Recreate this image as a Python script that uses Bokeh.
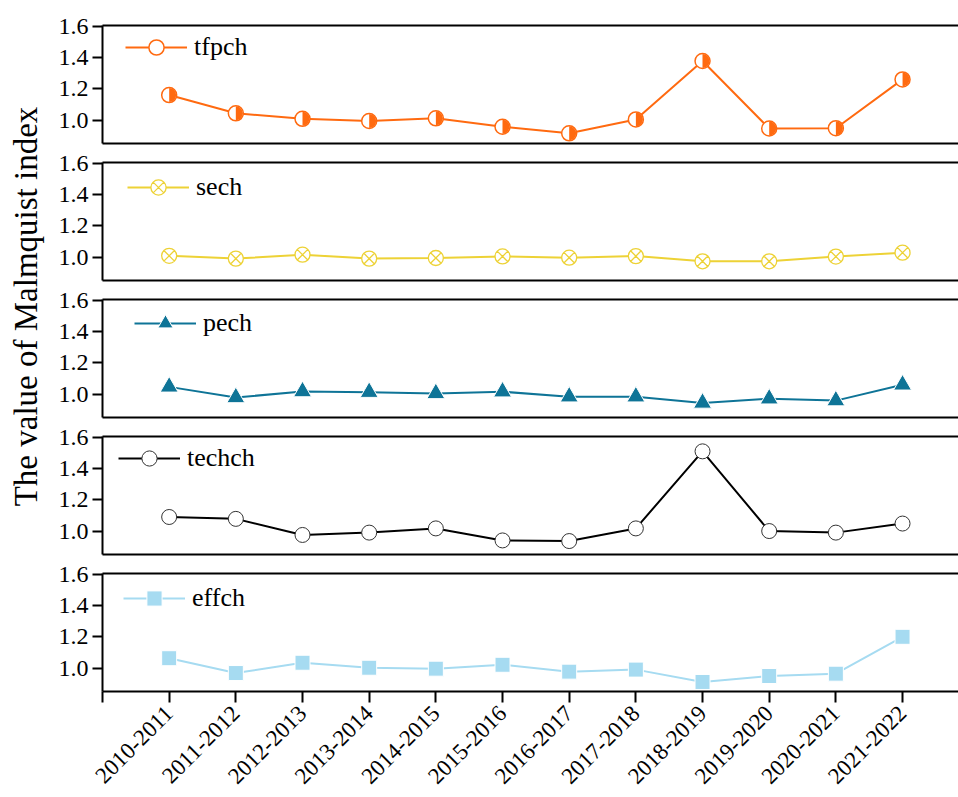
import numpy as np
from math import pi
from bokeh.plotting import figure
from bokeh.layouts import row, column
from bokeh.models import Range1d, FixedTicker, LinearAxis, PrintfTickFormatter
from bokeh.core.properties import value
from bokeh.embed import file_html
from bokeh.resources import INLINE

# ---------------- data ----------------
periods = ["2010-2011", "2011-2012", "2012-2013", "2013-2014", "2014-2015", "2015-2016",
           "2016-2017", "2017-2018", "2018-2019", "2019-2020", "2020-2021", "2021-2022"]
tfpch = [1.160, 1.043, 1.008, 0.994, 1.011, 0.957, 0.915, 1.004, 1.378, 0.946, 0.948, 1.260]
sech = [1.008, 0.990, 1.015, 0.990, 0.994, 1.004, 0.996, 1.006, 0.973, 0.973, 1.003, 1.028]
pech = [1.046, 0.978, 1.016, 1.012, 1.004, 1.015, 0.983, 0.983, 0.943, 0.970, 0.958, 1.059]
techch = [1.090, 1.078, 0.975, 0.990, 1.017, 0.940, 0.936, 1.017, 1.510, 1.000, 0.990, 1.048]
effch = [1.063, 0.968, 1.034, 1.002, 0.996, 1.021, 0.977, 0.990, 0.911, 0.949, 0.964, 1.200]
y_ticks = [1.0, 1.2, 1.4, 1.6]
y_label = "The value of Malmquist index"

# ---------------- styles ----------------
FONT = "Liberation Serif"
styles = {
    "tfpch": dict(color="#FF6A10", marker="circle", fill="white", size=15, mlw=1.5, half=True,
                  leg=(23, 77)),
    "sech": dict(color="#EDD236", marker="circle_x", fill="white", size=15, mlw=1.3, half=False,
                 leg=(25, 74)),
    "pech": dict(color="#0E7497", marker="triangle", fill="#0E7497", size=18, mlw=1.0, half=False,
                 mline="white", leg=(32, 75)),
    "techch": dict(color="#000000", marker="circle", fill="white", size=15, mlw=1.0, half=False,
                   mline="#333333", leg=(16, 77)),
    "effch": dict(color="#A6DBF1", marker="square", fill="#A6DBF1", size=15, mlw=1.0, half=False,
                  mline="white", leg=(21, 74)),
}

x = np.arange(1, len(periods) + 1)
LABEL_W = 53
LEFT = 49
FRAME_W = 958 - LABEL_W - LEFT
FRAME_H = 118
PANEL_W = LEFT + FRAME_W
X_END = FRAME_W / 66.67


def make_panel(name, vals, first=False, last=False):
    st = styles[name]
    top = 25 if first else 14
    bottom = 106 if last else 5
    p = figure(width=PANEL_W, height=top + FRAME_H + bottom, output_backend="svg",
               toolbar_location=None, x_range=Range1d(0, X_END), y_range=Range1d(0.85, 1.605),
               min_border_left=LEFT, min_border_right=0, min_border_top=top,
               min_border_bottom=bottom)
    p.outline_line_color = None
    p.grid.visible = False
    p.background_fill_color = "white"
    p.border_fill_color = "white"

    # y axis
    ya = p.yaxis[0]
    ya.ticker = FixedTicker(ticks=y_ticks)
    ya.formatter = PrintfTickFormatter(format="%.1f")
    ya.axis_line_width = 2
    ya.major_tick_line_width = 2
    ya.major_tick_out = 10
    ya.major_tick_in = 0
    ya.minor_tick_line_color = None
    ya.major_label_text_font = FONT
    ya.major_label_text_font_size = "24px"
    ya.major_label_text_color = "black"
    ya.major_label_standoff = 4

    # x axis
    xa = p.xaxis[0]
    xa.axis_line_width = 2
    xa.minor_tick_line_color = None
    if last:
        xa.ticker = FixedTicker(ticks=list(range(0, len(periods) + 1)))
        overrides = {0: ""}
        for i, lab in enumerate(periods):
            overrides[i + 1] = lab
        xa.major_label_overrides = overrides
        xa.major_tick_line_width = 2
        xa.major_tick_out = 11
        xa.major_tick_in = 0
        xa.major_label_orientation = pi / 4
        xa.major_label_text_font = FONT
        xa.major_label_text_font_size = "23px"
        xa.major_label_text_color = "black"
        xa.major_label_standoff = 7
    else:
        xa.ticker = FixedTicker(ticks=[])
        xa.major_tick_out = 0
        xa.major_label_standoff = 0

    top_axis = LinearAxis(ticker=FixedTicker(ticks=[]), axis_line_width=2, major_tick_out=0,
                          major_tick_in=0, minor_tick_out=0, major_label_standoff=0)
    p.add_layout(top_axis, "above")

    # data
    p.line(x, vals, line_color=st["color"], line_width=2, legend_label=name)
    p.scatter(x, vals, marker=st["marker"], size=st["size"], fill_color=st["fill"],
              line_color=st.get("mline", st["color"]), line_width=st["mlw"], legend_label=name)
    if st["half"]:
        p.wedge(x, vals, radius=7.0, radius_units="screen", start_angle=-pi / 2,
                end_angle=pi / 2, fill_color=st["color"], line_color=None)

    lg = p.legend[0]
    lg.location = st["leg"]
    lg.padding = 0
    lg.margin = 0
    lg.spacing = 0
    lg.glyph_width = 62
    lg.glyph_height = 38
    lg.label_height = 38
    lg.label_standoff = 7
    lg.border_line_alpha = 0
    lg.background_fill_alpha = 0
    lg.label_text_font = FONT
    lg.label_text_font_size = "26px"
    lg.label_text_color = "black"
    return p


names = ["tfpch", "sech", "pech", "techch", "effch"]
data = {"tfpch": tfpch, "sech": sech, "pech": pech, "techch": techch, "effch": effch}
panels = []
for i, n in enumerate(names):
    panels.append(make_panel(n, data[n], first=(i == 0), last=(i == len(names) - 1)))

total_h = sum(pp.height for pp in panels)
lab = figure(width=LABEL_W, height=total_h, output_backend="svg", toolbar_location=None,
             x_range=Range1d(0, LABEL_W), y_range=Range1d(0, total_h),
             min_border=0)
lab.axis.visible = False
lab.grid.visible = False
lab.outline_line_color = None
lab.text(x=[25], y=[total_h - 306], text=[y_label], angle=pi / 2, text_align="center",
         text_baseline="middle", text_font=value(FONT), text_font_size="33px",
         text_color="black")

layout = row(lab, column(*panels))
open("out.html", "w").write(file_html(layout, INLINE))
